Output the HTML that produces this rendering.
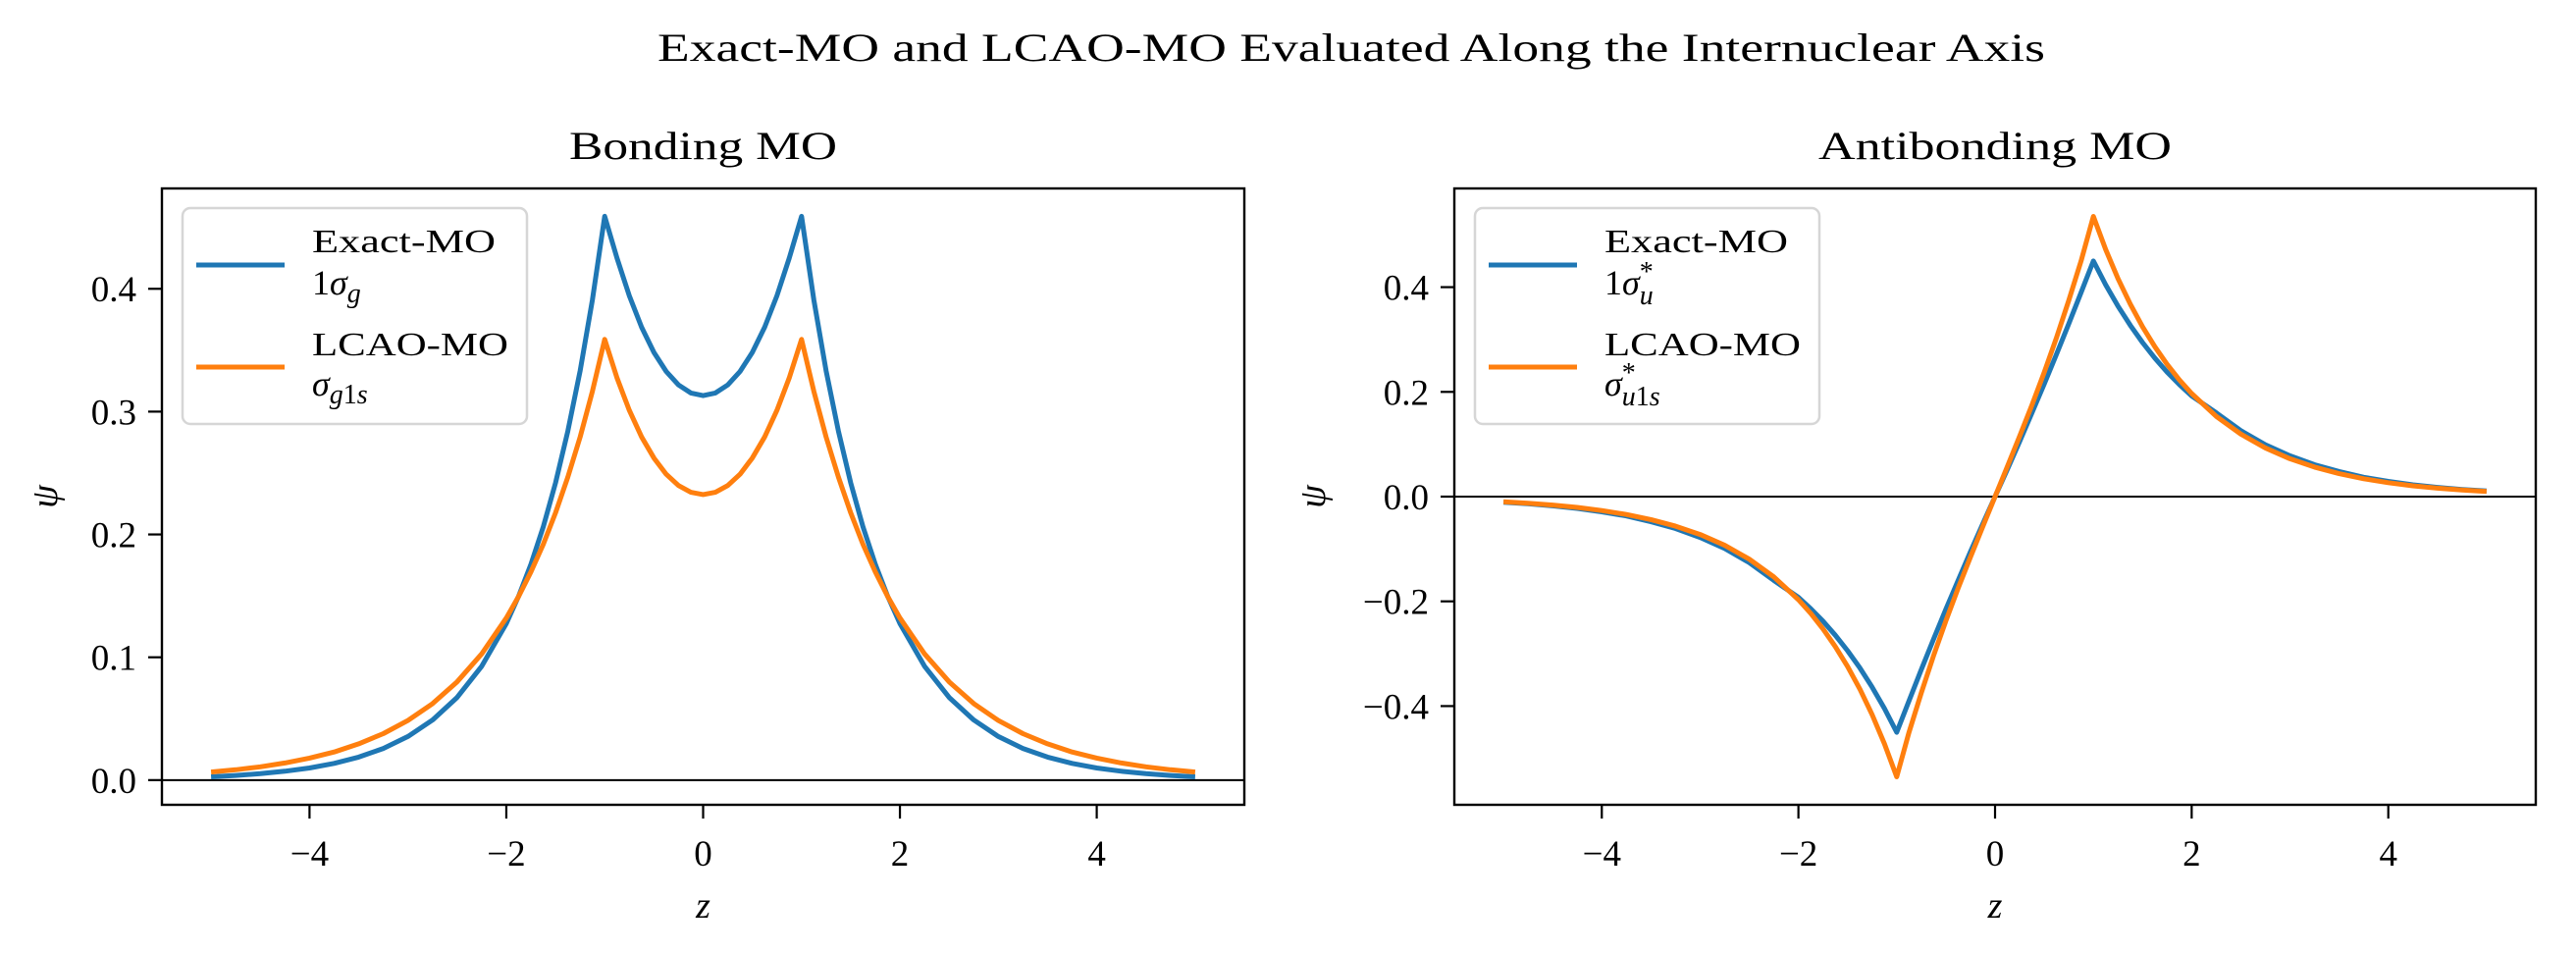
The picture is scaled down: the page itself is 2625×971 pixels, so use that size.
<!DOCTYPE html>
<html><head><meta charset="utf-8"><title>Exact-MO vs LCAO-MO</title>
<style>
html,body{margin:0;padding:0;background:#fff;}
svg{display:block;font-family:"Liberation Serif",serif;}
</style></head>
<body>
<svg id="fig" width="2625" height="971" viewBox="0 0 2625 971" xmlns="http://www.w3.org/2000/svg">
<rect width="2625" height="971" fill="#fff"/>
<text x="1377" y="62" font-size="40" text-anchor="middle" textLength="1414" lengthAdjust="spacingAndGlyphs">Exact-MO and LCAO-MO Evaluated Along the Internuclear Axis</text>
<g id="left"></g>
<g id="right"></g>
</svg>
<script>
const zValues = [-5,-4.75,-4.5,-4.25,-4,-3.75,-3.5,-3.25,-3,-2.75,-2.5,-2.25,-2,-1.875,-1.75,-1.625,-1.5,-1.375,-1.25,-1.125,-1,-0.875,-0.75,-0.625,-0.5,-0.375,-0.25,-0.125,0,0.125,0.25,0.375,0.5,0.625,0.75,0.875,1,1.125,1.25,1.375,1.5,1.625,1.75,1.875,2,2.25,2.5,2.75,3,3.25,3.5,3.75,4,4.25,4.5,4.75,5];
const bondingExact = [0.0027,0.0038,0.0052,0.0072,0.0099,0.0136,0.0187,0.0258,0.0355,0.0489,0.0673,0.0927,0.1276,0.1498,0.1757,0.2062,0.2420,0.2840,0.3333,0.3911,0.459,0.4248,0.3943,0.3687,0.3482,0.3327,0.3217,0.3152,0.313,0.3152,0.3217,0.3327,0.3482,0.3687,0.3943,0.4248,0.459,0.3911,0.3333,0.2840,0.2420,0.2062,0.1757,0.1498,0.1276,0.0927,0.0673,0.0489,0.0355,0.0258,0.0187,0.0136,0.0099,0.0072,0.0052,0.0038,0.0027];
const bondingLcao = [0.0066,0.0084,0.0108,0.0139,0.0179,0.0229,0.0295,0.0378,0.0485,0.0623,0.0800,0.1028,0.1320,0.1496,0.1695,0.1920,0.2176,0.2466,0.2794,0.3166,0.3588,0.3273,0.3010,0.2794,0.2622,0.2490,0.2398,0.2343,0.2325,0.2343,0.2398,0.2490,0.2622,0.2794,0.3010,0.3273,0.3588,0.3166,0.2794,0.2466,0.2176,0.1920,0.1695,0.1496,0.1320,0.1028,0.0800,0.0623,0.0485,0.0378,0.0295,0.0229,0.0179,0.0139,0.0108,0.0084,0.0066];
const antiExact = [-0.0107,-0.0137,-0.0176,-0.0225,-0.029,-0.037,-0.048,-0.061,-0.078,-0.099,-0.126,-0.160,-0.1923,-0.2140,-0.2379,-0.2647,-0.2942,-0.3273,-0.3639,-0.4047,-0.45,-0.39,-0.330,-0.272,-0.215,-0.160,-0.105,-0.052,0,0.052,0.105,0.160,0.215,0.272,0.330,0.39,0.45,0.4047,0.3639,0.3273,0.2942,0.2647,0.2379,0.2140,0.1923,0.160,0.126,0.099,0.078,0.061,0.048,0.037,0.029,0.0225,0.0176,0.0137,0.0107];
const antiLcao = [-0.0098,-0.0126,-0.0162,-0.0207,-0.0266,-0.0342,-0.0439,-0.0564,-0.0724,-0.0930,-0.1194,-0.1533,-0.1968,-0.2230,-0.2527,-0.2864,-0.3245,-0.3677,-0.4167,-0.4721,-0.535,-0.4501,-0.3745,-0.3035,-0.2373,-0.1748,-0.1150,-0.0571,0,0.0571,0.1150,0.1748,0.2373,0.3035,0.3745,0.4501,0.535,0.4721,0.4167,0.3677,0.3245,0.2864,0.2527,0.2230,0.1968,0.1533,0.1194,0.0930,0.0724,0.0564,0.0439,0.0342,0.0266,0.0207,0.0162,0.0126,0.0098];
const xTicks = [-4,-2,0,2,4];
const xTickLabels = ["\u22124","\u22122","0","2","4"];
const leftYTicks = [0,0.1,0.2,0.3,0.4];
const leftYTickLabels = ["0.0","0.1","0.2","0.3","0.4"];
const rightYTicks = [-0.4,-0.2,0,0.2,0.4];
const rightYTickLabels = ["\u22120.4","\u22120.2","0.0","0.2","0.4"];

const NS = "http://www.w3.org/2000/svg";
function mk(parent, tag, attrs){
  const e = document.createElementNS(NS, tag);
  for (const k in attrs) e.setAttribute(k, attrs[k]);
  parent.appendChild(e);
  return e;
}

function panel(gid, cfg){
  const g = document.getElementById(gid);
  const L = cfg.left, R = cfg.right, T = 192, B = 820;
  const sx = v => L + (v - (-5.5)) / 11 * (R - L);
  const sy = v => B - (v - cfg.ymin) / (cfg.ymax - cfg.ymin) * (B - T);

  const title = mk(g, "text", {x:(L+R)/2, y:162, "font-size":40, "text-anchor":"middle", textLength:cfg.titleLen, lengthAdjust:"spacingAndGlyphs"});
  title.textContent = cfg.title;
  
  

  const zl = mk(g, "line", {x1:L, x2:R, y1:sy(0), y2:sy(0), stroke:"#000", "stroke-width":2});
  
  

  const series = [[cfg.exact, "#1f77b4", "exact-line"], [cfg.lcao, "#ff7f0e", "lcao-line"]];
  series.forEach(s => {
    const pts = zValues.map((z, i) => sx(z).toFixed(1) + "," + sy(s[0][i]).toFixed(1)).join(" ");
    const pl = mk(g, "polyline", {points:pts, fill:"none", stroke:s[1], "stroke-width":5, "stroke-linejoin":"round"});
    
    
  });

  const fr = mk(g, "rect", {x:L, y:T, width:R-L, height:B-T, fill:"none", stroke:"#000", "stroke-width":2.4});
  
  

  xTicks.forEach((t, i) => {
    const x = sx(t);
    const tk = mk(g, "line", {x1:x, x2:x, y1:B, y2:B+14, stroke:"#000", "stroke-width":2.2});
    
    
    const lb = mk(g, "text", {x:x, y:882, "font-size":37, "text-anchor":"middle"});
    lb.textContent = xTickLabels[i];
    
    
  });
  cfg.yTicks.forEach((t, i) => {
    const y = sy(t);
    const tk = mk(g, "line", {x1:L-14, x2:L, y1:y, y2:y, stroke:"#000", "stroke-width":2.2});
    
    
    const lb = mk(g, "text", {x:L-26, y:y+13, "font-size":37, "text-anchor":"end"});
    lb.textContent = cfg.yLabels[i];
    
    
  });
  const xl = mk(g, "text", {x:(L+R)/2, y:935, "font-size":38, "font-style":"italic", "text-anchor":"middle"});
  xl.textContent = "z";
  
  
  const yl = mk(g, "text", {x:0, y:0, "font-size":38, "font-style":"italic", "text-anchor":"middle", transform:"translate(" + (cfg.ylabX) + ",506) rotate(-90)"});
  yl.textContent = "\u03C8";
  
  

  const lg = mk(g, "g", {});
  
  
  const lx = L + 21;
  mk(lg, "rect", {x:lx, y:212, width:351, height:220, rx:8, fill:"#fff", "fill-opacity":0.8, stroke:"#d6d6d6", "stroke-width":2.5});
  const e1 = mk(lg, "line", {x1:lx+14, x2:lx+104, y1:270, y2:270, stroke:"#1f77b4", "stroke-width":5});
  
  
  const e2 = mk(lg, "line", {x1:lx+14, x2:lx+104, y1:374, y2:374, stroke:"#ff7f0e", "stroke-width":5});
  
  
  const t1 = mk(lg, "text", {x:lx+132, y:257, "font-size":34, textLength:187, lengthAdjust:"spacingAndGlyphs"});
  t1.textContent = "Exact-MO";
  
  
  const t3 = mk(lg, "text", {x:lx+132, y:362, "font-size":34, textLength:200, lengthAdjust:"spacingAndGlyphs"});
  t3.textContent = "LCAO-MO";
  
  
  lg.insertAdjacentHTML("beforeend", cfg.sym1(lx+132) + cfg.sym2(lx+132));
}

panel("left", {
  prefix:"bonding", title:"Bonding MO", titleLen:273, left:165, right:1268, ymin:-0.0201, ymax:0.4817,
  exact:bondingExact, lcao:bondingLcao, yTicks:leftYTicks, yLabels:leftYTickLabels, ylabX:58,
  sym1: x => '<text x="'+x+'" y="300" font-size="36">1<tspan font-style="italic">σ</tspan><tspan font-style="italic" font-size="28" dy="8">g</tspan></text>',
  sym2: x => '<text x="'+x+'" y="403" font-size="36"><tspan font-style="italic">σ</tspan><tspan font-size="28" dy="8"><tspan font-style="italic">g</tspan>1<tspan font-style="italic">s</tspan></tspan></text>'
});
panel("right", {
  prefix:"antibonding", title:"Antibonding MO", titleLen:360, left:1482, right:2584, ymin:-0.5885, ymax:0.5885,
  exact:antiExact, lcao:antiLcao, yTicks:rightYTicks, yLabels:rightYTickLabels, ylabX:1350,
  sym1: x => '<text x="'+x+'" y="300" font-size="36">1<tspan font-style="italic">σ</tspan><tspan font-size="28" dy="-14">*</tspan><tspan font-style="italic" font-size="28" dx="-14" dy="24">u</tspan></text>',
  sym2: x => '<text x="'+x+'" y="403" font-size="36"><tspan font-style="italic">σ</tspan><tspan font-size="28" dy="-14">*</tspan><tspan font-size="28" dx="-14" dy="24"><tspan font-style="italic">u</tspan>1<tspan font-style="italic">s</tspan></tspan></text>'
});
</script>
</body></html>
